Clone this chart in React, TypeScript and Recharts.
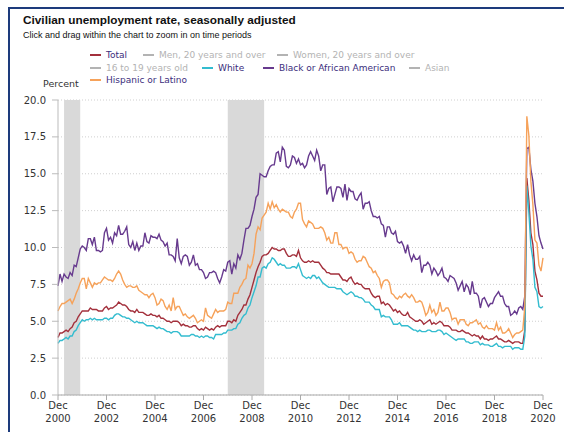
import React from "react";
import { LineChart, Line, XAxis, YAxis, CartesianGrid, ReferenceArea } from "recharts";

// monthly, Dec 2000 .. Dec 2020 (241 points)
const TOTAL = [
  3.9,
  4.2, 4.2, 4.3, 4.4, 4.3, 4.5, 4.6, 4.9, 5.0, 5.3, 5.5, 5.7,
  5.7, 5.7, 5.7, 5.9, 5.8, 5.8, 5.8, 5.7, 5.7, 5.7, 5.9, 6.0,
  5.8, 5.9, 5.9, 6.0, 6.1, 6.3, 6.2, 6.1, 6.1, 6.0, 5.8, 5.7,
  5.7, 5.6, 5.8, 5.6, 5.6, 5.6, 5.5, 5.4, 5.4, 5.5, 5.4, 5.4,
  5.3, 5.4, 5.2, 5.2, 5.1, 5.0, 5.0, 4.9, 5.0, 5.0, 5.0, 4.9,
  4.7, 4.8, 4.7, 4.7, 4.6, 4.6, 4.7, 4.7, 4.5, 4.4, 4.5, 4.4,
  4.6, 4.5, 4.4, 4.5, 4.4, 4.6, 4.7, 4.6, 4.7, 4.7, 4.7, 5.0,
  5.0, 4.9, 5.1, 5.0, 5.4, 5.6, 5.8, 6.1, 6.1, 6.5, 6.8, 7.3,
  7.8, 8.3, 8.7, 9.0, 9.4, 9.5, 9.5, 9.6, 9.8, 10.0, 9.9, 9.9,
  9.8, 9.8, 9.9, 9.9, 9.6, 9.4, 9.4, 9.5, 9.5, 9.4, 9.8, 9.3,
  9.1, 9.0, 9.0, 9.1, 9.0, 9.1, 9.0, 9.0, 9.0, 8.8, 8.6, 8.5,
  8.3, 8.3, 8.2, 8.2, 8.2, 8.2, 8.2, 8.0, 7.8, 7.8, 7.7, 7.9,
  8.0, 7.7, 7.5, 7.6, 7.5, 7.5, 7.3, 7.2, 7.2, 7.2, 6.9, 6.7,
  6.6, 6.7, 6.7, 6.2, 6.3, 6.1, 6.2, 6.1, 5.9, 5.7, 5.8, 5.6,
  5.7, 5.5, 5.4, 5.4, 5.6, 5.3, 5.2, 5.1, 5.0, 5.0, 5.1, 5.0,
  4.8, 4.9, 5.0, 5.1, 4.8, 4.9, 4.8, 4.9, 5.0, 4.9, 4.7, 4.7,
  4.7, 4.6, 4.4, 4.4, 4.4, 4.3, 4.3, 4.4, 4.3, 4.2, 4.2, 4.1,
  4.0, 4.1, 4.0, 4.0, 3.8, 4.0, 3.8, 3.8, 3.7, 3.8, 3.8, 3.9,
  4.0, 3.8, 3.8, 3.7, 3.6, 3.6, 3.7, 3.6, 3.5, 3.6, 3.6, 3.6,
  3.5, 3.5, 4.4, 14.7, 13.2, 11.0, 10.2, 8.4, 7.8, 6.9, 6.7, 6.7,
];

const WHITE = [
  3.5,
  3.7, 3.7, 3.8, 3.9, 3.8, 4.0, 4.0, 4.3, 4.4, 4.7, 4.9, 5.1,
  5.0, 5.1, 5.1, 5.2, 5.1, 5.2, 5.1, 5.1, 5.1, 5.1, 5.2, 5.2,
  5.1, 5.2, 5.2, 5.4, 5.5, 5.5, 5.4, 5.3, 5.3, 5.2, 5.2, 5.1,
  5.0, 4.9, 5.0, 4.9, 4.9, 4.9, 4.8, 4.7, 4.7, 4.7, 4.7, 4.6,
  4.5, 4.6, 4.5, 4.5, 4.4, 4.3, 4.3, 4.2, 4.3, 4.3, 4.3, 4.2,
  4.0, 4.0, 4.0, 4.0, 4.0, 4.1, 4.1, 4.0, 4.0, 3.9, 4.0, 3.9,
  4.0, 4.0, 3.9, 3.9, 3.8, 4.1, 4.1, 4.1, 4.1, 4.2, 4.2, 4.4,
  4.4, 4.4, 4.5, 4.5, 4.8, 4.9, 5.2, 5.4, 5.5, 5.9, 6.1, 6.6,
  7.0, 7.4, 8.0, 8.0, 8.6, 8.7, 8.6, 8.9, 9.0, 9.3, 9.2, 9.0,
  8.8, 8.9, 8.8, 8.8, 8.6, 8.6, 8.6, 8.7, 8.7, 8.6, 8.9, 8.5,
  8.1, 8.0, 7.9, 8.0, 7.9, 8.1, 8.1, 7.9, 8.0, 7.8, 7.6, 7.5,
  7.4, 7.3, 7.3, 7.3, 7.3, 7.2, 7.2, 7.2, 7.0, 6.9, 6.8, 6.9,
  7.0, 6.9, 6.7, 6.7, 6.6, 6.6, 6.5, 6.3, 6.3, 6.3, 6.1, 6.0,
  5.8, 5.8, 5.8, 5.3, 5.4, 5.3, 5.3, 5.3, 5.1, 4.8, 4.8, 4.8,
  4.9, 4.7, 4.7, 4.7, 4.7, 4.6, 4.5, 4.4, 4.4, 4.3, 4.4, 4.3,
  4.3, 4.3, 4.4, 4.4, 4.3, 4.3, 4.3, 4.4, 4.4, 4.3, 4.1, 4.2,
  4.1, 4.0, 3.9, 3.8, 3.7, 3.8, 3.8, 3.8, 3.8, 3.6, 3.6, 3.5,
  3.5, 3.6, 3.6, 3.6, 3.4, 3.5, 3.4, 3.4, 3.4, 3.3, 3.3, 3.4,
  3.5, 3.3, 3.3, 3.2, 3.3, 3.3, 3.3, 3.3, 3.1, 3.2, 3.2, 3.2,
  3.1, 3.1, 4.0, 14.2, 12.4, 10.1, 9.2, 7.3, 7.0, 6.0, 5.9, 6.0,
];

const BLACK = [
  7.4,
  8.2, 7.7, 8.2, 8.0, 7.9, 8.3, 8.1, 8.8, 8.7, 9.3, 9.9, 10.1,
  10.0, 9.8, 10.6, 10.6, 10.2, 10.7, 9.8, 9.8, 9.7, 9.8, 11.0, 11.3,
  10.5, 10.7, 10.3, 11.0, 10.8, 11.5, 10.9, 10.9, 11.1, 11.4, 10.2, 10.0,
  10.4, 9.8, 10.3, 9.8, 10.1, 10.1, 11.0, 10.4, 10.3, 10.8, 10.7, 10.7,
  10.6, 10.9, 10.5, 10.4, 10.1, 10.3, 9.5, 9.5, 9.4, 9.1, 10.6, 9.3,
  8.9, 9.4, 9.5, 9.4, 8.8, 9.0, 9.5, 8.8, 8.9, 8.5, 8.5, 8.3,
  7.9, 8.0, 8.3, 8.3, 8.4, 8.3, 7.9, 7.6, 8.0, 8.5, 8.4, 9.0,
  9.1, 8.2, 8.9, 8.6, 9.5, 9.2, 9.6, 10.5, 11.3, 11.3, 11.5, 12.1,
  12.6, 13.4, 13.6, 15.0, 14.9, 14.8, 14.8, 15.2, 15.5, 15.6, 15.6, 16.4,
  16.5, 15.8, 16.8, 16.6, 15.5, 15.4, 15.6, 16.2, 16.1, 15.7, 16.0, 15.6,
  15.7, 15.4, 15.6, 16.2, 16.5, 16.2, 15.9, 16.6, 16.2, 15.2, 15.6, 15.6,
  13.6, 14.0, 14.1, 13.1, 13.6, 14.1, 14.1, 14.0, 13.4, 14.3, 13.2, 14.0,
  13.8, 13.8, 13.3, 13.2, 13.5, 13.7, 12.6, 13.0, 13.0, 13.1, 12.5, 12.1,
  12.1, 12.0, 12.1, 11.6, 11.5, 10.7, 11.4, 11.4, 11.0, 10.9, 11.1, 10.4,
  10.3, 10.4, 10.1, 9.6, 10.2, 9.5, 9.1, 9.5, 9.2, 9.2, 9.4, 8.3,
  8.8, 8.8, 9.0, 8.8, 8.2, 8.6, 8.4, 8.1, 8.3, 8.6, 8.0, 7.9,
  7.7, 8.1, 8.0, 7.9, 7.6, 7.1, 7.4, 7.7, 7.0, 7.5, 7.3, 6.8,
  7.7, 6.9, 6.9, 6.7, 5.9, 6.5, 6.6, 6.3, 6.0, 6.2, 6.2, 6.6,
  6.8, 7.0, 6.7, 6.7, 6.2, 6.0, 6.0, 5.4, 5.5, 5.7, 5.5, 5.9,
  6.0, 5.8, 6.7, 16.7, 16.8, 15.3, 14.5, 13.0, 12.1, 10.8, 10.3, 9.9,
];

const HISPANIC = [
  5.7,
  6.0, 6.2, 6.2, 6.3, 6.4, 6.5, 6.2, 6.5, 6.9, 7.2, 7.6, 7.9,
  7.9, 7.2, 7.9, 7.6, 7.3, 7.6, 7.5, 7.6, 7.6, 7.8, 8.0, 7.9,
  7.8, 7.8, 7.7, 7.9, 8.2, 8.4, 8.2, 7.8, 7.5, 7.3, 7.4, 7.4,
  7.3, 7.3, 7.4, 7.1, 7.0, 6.9, 6.8, 6.8, 6.6, 6.8, 6.9, 6.6,
  6.1, 6.2, 6.5, 6.4, 6.0, 5.8, 6.1, 5.7, 6.6, 5.8, 6.0, 6.0,
  5.7, 5.4, 5.5, 5.3, 5.2, 5.3, 5.4, 5.2, 4.9, 5.0, 5.1, 5.0,
  5.9, 5.4, 5.3, 5.2, 5.5, 5.8, 5.6, 5.7, 5.7, 5.7, 5.8, 6.3,
  6.2, 6.2, 6.9, 6.9, 6.9, 7.3, 7.5, 7.8, 7.9, 8.8, 8.6, 8.9,
  9.6, 10.9, 11.4, 11.2, 12.0, 12.2, 12.4, 13.0, 12.6, 13.1, 12.7, 12.9,
  12.6, 12.4, 12.6, 12.5, 12.4, 12.4, 12.1, 12.0, 12.4, 12.6, 13.0, 13.0,
  11.9, 11.6, 11.4, 11.8, 11.7, 11.6, 11.3, 11.3, 11.3, 11.4, 11.3, 11.0,
  10.5, 10.7, 10.3, 10.3, 11.0, 11.0, 10.2, 10.2, 9.9, 10.0, 10.0, 9.6,
  9.7, 9.6, 9.2, 9.0, 9.1, 9.1, 9.4, 9.3, 9.0, 8.7, 8.6, 8.3,
  8.4, 8.1, 7.9, 7.3, 7.7, 7.8, 7.8, 7.6, 6.9, 6.8, 6.6, 6.5,
  6.7, 6.6, 6.8, 6.9, 6.7, 6.6, 6.8, 6.6, 6.3, 6.3, 6.4, 6.3,
  5.9, 5.4, 5.6, 6.1, 5.6, 5.8, 5.4, 5.6, 6.3, 5.7, 5.7, 5.9,
  5.9, 5.6, 5.1, 5.2, 5.2, 4.8, 5.1, 5.1, 5.1, 4.8, 4.7, 4.9,
  4.9, 5.0, 5.1, 4.8, 4.9, 4.6, 4.5, 4.7, 4.5, 4.5, 4.5, 4.4,
  4.9, 4.4, 4.6, 4.2, 4.2, 4.3, 4.5, 4.2, 3.9, 4.1, 4.2, 4.2,
  4.3, 4.4, 6.0, 18.9, 17.6, 14.5, 12.9, 10.5, 10.3, 8.8, 8.4, 9.3,
];

// months after Dec 2000
const TICK_MONTHS = [0, 24, 48, 72, 96, 120, 144, 168, 192, 216, 240];
const TICK_YEARS = ["2000", "2002", "2004", "2006", "2008", "2010", "2012", "2014", "2016", "2018", "2020"];
const Y_TICKS = [0, 2.5, 5, 7.5, 10, 12.5, 15, 17.5, 20];
// recessions: Mar 2001 - Nov 2001, Dec 2007 - Jun 2009
const RECESSIONS = [
  [3, 11],
  [84, 102],
];

const LEGEND_LABELS = [
  "Total",
  "Men, 20 years and over",
  "Women, 20 years and over",
  "16 to 19 years old",
  "White",
  "Black or African American",
  "Asian",
  "Hispanic or Latino",
];

const C_TOTAL = "#a3303c";
const C_WHITE = "#33bccf";
const C_BLACK = "#673a8e";
const C_HISP = "#f6a25a";
const OFF = "#b3b3b3";
const ON_TEXT = "#3b2d7c";

const LEGEND_COLORS = [C_TOTAL, OFF, OFF, OFF, C_WHITE, C_BLACK, OFF, C_HISP];
const LEGEND_POS = [
  [90, 55], [143, 55], [277, 55],
  [90, 68], [202, 68], [263, 68], [409, 68],
  [90, 80],
];

const data = TOTAL.map((v, i) => ({
  m: i,
  total: v,
  white: WHITE[i],
  black: BLACK[i],
  hisp: HISPANIC[i],
}));

const font = "'DejaVu Sans', Verdana, sans-serif";

function XTick(props: any) {
  const { x, y, payload } = props;
  const year = TICK_YEARS[TICK_MONTHS.indexOf(payload.value)];
  return (
    <text x={x} y={y} textAnchor="middle" fontSize={10} fill="#333" fontFamily={font}>
      <tspan x={x} dy={7}>Dec</tspan>
      <tspan x={x} dy={13}>{year}</tspan>
    </text>
  );
}

export default function App() {
  return (
    <div
      style={{
        position: "absolute",
        left: 0,
        top: 0,
        width: 564,
        height: 432,
        background: "#fff",
        overflow: "hidden",
      }}
    >
      <div
        style={{
          position: "absolute",
          left: 8,
          top: 7,
          width: 600,
          height: 500,
          borderTop: "2px solid #1d3b7c",
          borderLeft: "2px solid #1d3b7c",
        }}
      />
      <div
        style={{
          position: "absolute",
          left: 23,
          top: 12,
          font: "bold 11.8px 'Liberation Sans', Arial, sans-serif",
          lineHeight: "16px",
          color: "#111",
          whiteSpace: "nowrap",
        }}
      >
        Civilian unemployment rate, seasonally adjusted
      </div>
      <div
        style={{
          position: "absolute",
          left: 23,
          top: 29,
          font: "9px 'Liberation Sans', Arial, sans-serif",
          lineHeight: "12px",
          color: "#111",
          whiteSpace: "nowrap",
        }}
      >
        Click and drag within the chart to zoom in on time periods
      </div>

      {LEGEND_LABELS.map((label, i) => {
        const [x, y] = LEGEND_POS[i];
        const on = LEGEND_COLORS[i] !== OFF;
        return (
          <div
            key={label}
            style={{
              position: "absolute",
              left: x,
              top: y - 6,
              height: 12,
              display: "flex",
              alignItems: "center",
              whiteSpace: "nowrap",
              font: `9px ${font}`,
              color: on ? ON_TEXT : OFF,
            }}
          >
            <span
              style={{
                display: "inline-block",
                width: 11,
                height: 2,
                background: LEGEND_COLORS[i],
                marginRight: 5,
              }}
            />
            <span>{label}</span>
          </div>
        );
      })}

      <div
        style={{
          position: "absolute",
          left: 43,
          top: 78,
          font: `9.5px ${font}`,
          lineHeight: "12px",
          color: "#333",
        }}
      >
        Percent
      </div>

      <div style={{ position: "absolute", left: 0, top: 0 }}>
        <LineChart width={564} height={432} data={data} margin={{ top: 100, right: 21, bottom: 7, left: 8 }}>
          {RECESSIONS.map(([a, b]) => (
            <ReferenceArea key={a} x1={a} x2={b} y1={0} y2={20} fill="#d9d9d9" fillOpacity={1} stroke="none" />
          ))}
          <CartesianGrid vertical={false} stroke="#cfcfcf" strokeDasharray="1 2" />
          <XAxis
            dataKey="m"
            type="number"
            domain={[0, 240]}
            ticks={TICK_MONTHS}
            interval={0}
            height={30}
            tickSize={5}
            tickMargin={2}
            stroke="#aaa"
            tick={<XTick />}
          />
          <YAxis
            type="number"
            domain={[0, 20]}
            ticks={Y_TICKS}
            interval={0}
            width={50}
            tickSize={6}
            tickMargin={6}
            stroke="#bbb"
            tickFormatter={(v: number) => v.toFixed(1)}
            tick={{ fontSize: 10, fill: "#333", fontFamily: font }}
          />
          <Line dataKey="total" stroke={C_TOTAL} strokeWidth={1.4} dot={false} isAnimationActive={false} />
          <Line dataKey="white" stroke={C_WHITE} strokeWidth={1.4} dot={false} isAnimationActive={false} />
          <Line dataKey="black" stroke={C_BLACK} strokeWidth={1.4} dot={false} isAnimationActive={false} />
          <Line dataKey="hisp" stroke={C_HISP} strokeWidth={1.4} dot={false} isAnimationActive={false} />
        </LineChart>
      </div>
    </div>
  );
}
